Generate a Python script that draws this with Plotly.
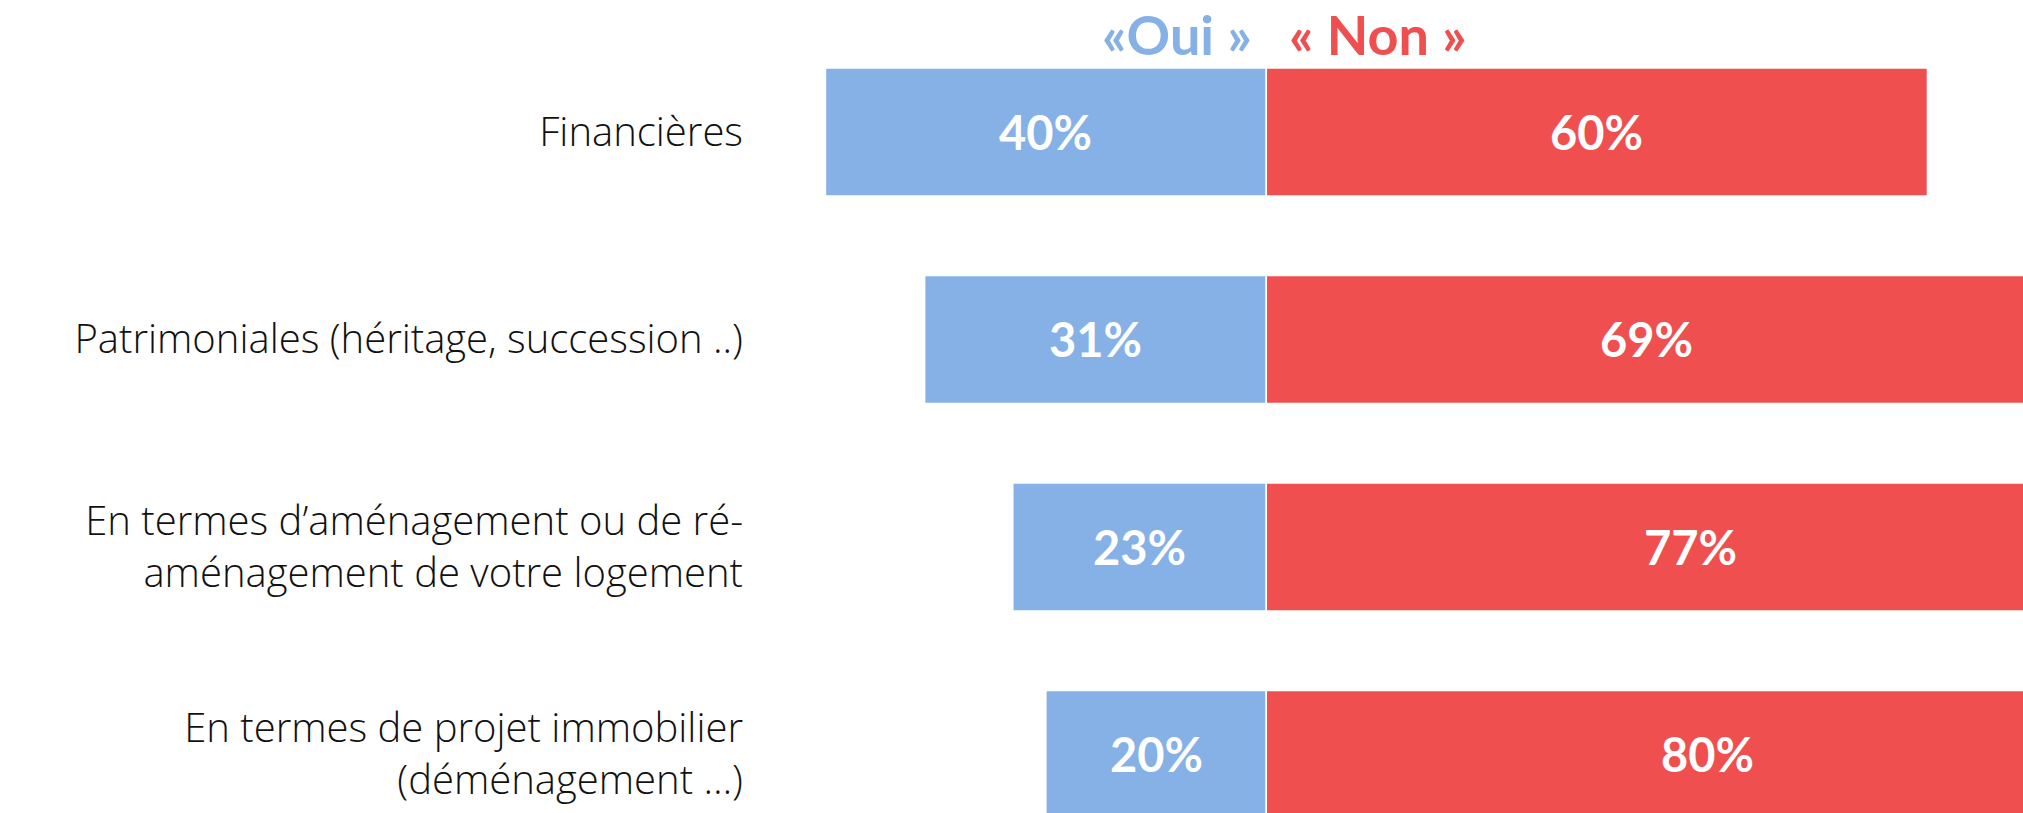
import plotly.graph_objects as go

# Data
categories = [
    'Financières',
    'Patrimoniales (héritage, succession ..)',
    'En termes d’aménagement ou de ré-<br>aménagement de votre logement',
    'En termes de projet immobilier<br>(déménagement …)',
]
oui = [40, 31, 23, 20]
non = [60, 69, 77, 80]

blue = '#85b1e6'
red = '#f04f50'

fig = go.Figure()

fig.add_trace(go.Bar(
    y=categories, x=[-v for v in oui], orientation='h', name='« Oui »',
    marker=dict(color=blue, line=dict(color='white', width=1.5)),
    width=0.617, hoverinfo='skip'
))
fig.add_trace(go.Bar(
    y=categories, x=non, orientation='h', name='« Non »',
    marker=dict(color=red, line=dict(color='white', width=1.5)),
    width=0.617, hoverinfo='skip'
))

# Percent labels centred in each bar
pct_font = dict(family='Lato', size=47, color='white', weight='bold')
for cat, o, n in zip(categories, oui, non):
    fig.add_annotation(x=-o / 2, y=cat, text=f'{o}%', showarrow=False,
                       font=pct_font, xanchor='center', yanchor='middle')
    fig.add_annotation(x=n / 2, y=cat, text=f'{n}%', showarrow=False,
                       font=pct_font, xanchor='center', yanchor='middle')

# Column headers
fig.add_annotation(x=-1.12, y=0.957, xref='x', yref='paper', text='«Oui »',
                   showarrow=False, xanchor='right', yanchor='middle',
                   font=dict(family='Lato', size=54, color=blue, weight='bold'))
fig.add_annotation(x=1.92, y=0.957, xref='x', yref='paper', text='« Non »',
                   showarrow=False, xanchor='left', yanchor='middle',
                   font=dict(family='Lato', size=54, color=red, weight='bold'))

fig.update_layout(
    width=2023, height=813,
    barmode='relative',
    showlegend=False,
    plot_bgcolor='white',
    paper_bgcolor='white',
    margin=dict(l=760, r=0, t=0, b=0),
)
fig.update_xaxes(range=[-45.94, 68.67], visible=False, fixedrange=True)
fig.update_yaxes(
    range=[3.282, -0.636],
    showgrid=False, zeroline=False, showline=False, ticks='',
    ticklabelstandoff=16,
    tickfont=dict(family='Open Sans', size=40, color='#111111', weight=300),
)

# drop the page's default body margin so the figure fills the window
fig.write_html('out.html',
               config={'displayModeBar': False},
               post_script="document.body.style.margin='0';"
                           "document.body.style.overflow='hidden';")
